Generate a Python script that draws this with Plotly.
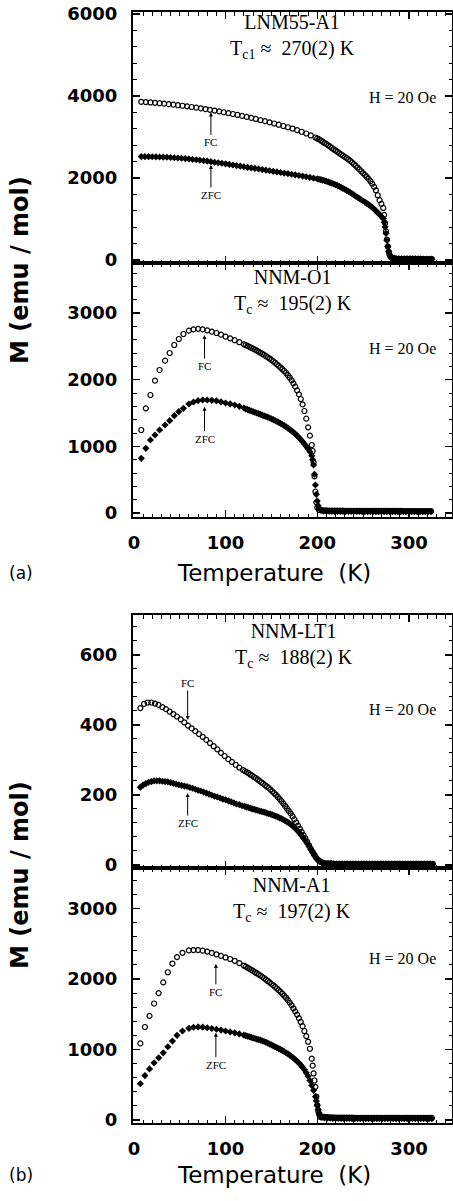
import plotly.graph_objects as go

W, H = 453, 1201

# ---------------- Panel 1 : LNM55-A1 ----------------
T1_fc = [8, 13, 18, 23, 28, 33, 38, 43, 48, 53, 58, 63, 68, 73, 78, 83, 88, 93, 98, 103,
         108, 113, 118, 123, 128, 133, 138, 143, 148, 153, 158, 163, 168, 173, 178, 183, 188, 193, 198,
         200, 202, 204, 206, 208, 210, 212, 214, 216, 218, 220, 222, 224, 226, 228, 230, 232, 234, 236,
         238, 240, 242, 244, 246, 248, 250, 252, 254, 256, 258, 260, 262, 264, 266, 268, 270, 272,
         273, 274, 275, 276, 277, 278, 279, 280, 282, 284]
M1_fc = [3859, 3851, 3843, 3834, 3824, 3813, 3801, 3789, 3776, 3762, 3748, 3732, 3716, 3700, 3682, 3664,
         3645, 3625, 3604, 3583, 3561, 3538, 3515, 3491, 3466, 3440, 3413, 3386, 3358, 3329, 3300, 3269,
         3238, 3206, 3168, 3128, 3085, 3038, 2988,
         2965, 2945, 2915, 2885, 2855, 2825, 2795, 2765, 2733, 2700, 2670, 2640, 2608, 2575, 2545, 2515,
         2485, 2455, 2418, 2380, 2340, 2300, 2255, 2210, 2165, 2120, 2075, 2030, 1978, 1922, 1860, 1785,
         1700, 1580, 1460, 1370, 1270,
         1100, 900, 700, 500, 330, 200, 120, 80, 50, 35]
T1_zfc = [8, 12, 16, 20, 24, 28, 32, 36, 40, 44, 48, 52, 56, 60, 64, 68, 72, 76, 80, 84, 88, 92, 96,
          100, 104, 108, 112, 116, 120, 124, 128, 132, 136, 140, 144, 148, 152, 156, 160, 164, 168, 172,
          176, 180, 184, 188, 192, 196, 200,
          202, 204, 206, 208, 210, 212, 214, 216, 218, 220, 222, 224, 226, 228, 230, 232, 234, 236, 238,
          240, 242, 244, 246, 248, 250, 252, 254, 256, 258, 260, 262, 264, 266, 268, 270, 272,
          273, 274, 275, 276, 277, 278, 279, 280, 282, 284]
M1_zfc = [2522, 2521, 2520, 2518, 2516, 2513, 2510, 2506, 2501, 2495, 2489, 2482, 2474, 2465, 2455, 2445,
          2434, 2422, 2410, 2398, 2385, 2372, 2359, 2345, 2331, 2317, 2303, 2289, 2275, 2261, 2247, 2233,
          2219, 2205, 2191, 2177, 2163, 2149, 2135, 2121, 2107, 2092, 2077, 2062, 2046, 2030, 2014, 1997, 1980,
          1970, 1959, 1947, 1934, 1920, 1905, 1889, 1872, 1854, 1835, 1815, 1794, 1772, 1749, 1725, 1700,
          1674, 1646, 1617, 1587, 1556, 1530, 1500, 1470, 1440, 1412, 1383, 1352, 1318, 1282, 1243, 1200,
          1155, 1108, 1060, 1010,
          920, 810, 650, 480, 330, 210, 130, 90, 55, 38]
T1_tail = [286, 289, 292, 295, 298, 301, 304, 307, 310, 313, 316, 319, 322, 325]
M1_tail_fc = [30, 28, 28, 27, 27, 26, 26, 26, 25, 25, 25, 25, 24, 24]
M1_tail_zfc = [32, 30, 29, 28, 28, 27, 27, 26, 26, 26, 25, 25, 25, 25]

# ---------------- Panel 2 : NNM-O1 ----------------
T2_fc = [8, 13, 18, 23, 28, 34, 39, 44, 49, 54, 60, 65, 70, 75, 80, 85, 90, 95, 100, 105, 110, 115, 120,
         122, 124, 126, 128, 130, 132, 134, 136, 138, 140, 142, 144, 146, 148, 150, 152, 154, 156, 158,
         160, 162, 164, 166, 168, 170, 172, 174, 176, 178, 180, 182, 184, 186, 188, 190, 192, 194, 195,
         196, 197, 198, 199, 200, 202, 205]
M2_fc = [1245, 1570, 1770, 1985, 2145, 2285, 2400, 2520, 2610, 2685, 2735, 2755, 2762, 2755, 2740, 2720,
         2700, 2675, 2645, 2620, 2592, 2562, 2530,
         2518, 2506, 2493, 2479, 2465, 2450, 2435, 2420, 2404, 2388, 2371, 2354, 2336, 2317, 2297, 2276,
         2254, 2231, 2207, 2182, 2157, 2130, 2100, 2067, 2030, 1990, 1945, 1895, 1840, 1780, 1710, 1630,
         1530, 1415, 1285, 1160, 1020, 930, 760, 550, 320, 160, 80, 45, 35]
T2_zfc = [8, 13, 18, 23, 28, 34, 39, 44, 49, 54, 60, 65, 70, 75, 80, 85, 90, 95, 100, 105, 110, 115, 120,
          122, 124, 126, 128, 130, 132, 134, 136, 138, 140, 142, 144, 146, 148, 150, 152, 154, 156, 158,
          160, 162, 164, 166, 168, 170, 172, 174, 176, 178, 180, 182, 184, 186, 188, 190, 192, 194, 195,
          196, 197, 198, 199, 200, 201, 202, 204]
M2_zfc = [820, 970, 1095, 1170, 1245, 1320, 1385, 1460, 1520, 1570, 1635, 1665, 1685, 1695, 1695, 1690,
          1682, 1668, 1650, 1636, 1620, 1600, 1575,
          1560, 1550, 1540, 1530, 1520, 1510, 1500, 1490, 1479, 1468, 1458, 1448, 1437, 1425, 1413, 1400,
          1387, 1373, 1359, 1344, 1328, 1311, 1293, 1274, 1254, 1233, 1210, 1186, 1160, 1132, 1102, 1070,
          1036, 1000, 962, 920, 860, 800, 720, 580, 420, 280, 180, 110, 70, 45]
T2_tail = [207, 210, 213, 216, 219, 222, 225, 228, 231, 234, 237, 240, 243, 246, 249, 252, 255, 258, 261,
           264, 267, 270, 273, 276, 279, 282, 285, 288, 291, 294, 297, 300, 303, 306, 309, 312, 315, 318,
           321, 324]
M2_tail_fc = [40, 38, 37, 36, 36, 35, 35, 35, 34, 34, 34, 34, 33, 33, 33, 33, 33, 32, 32, 32, 32, 32, 32,
              31, 31, 31, 31, 31, 31, 30, 30, 30, 30, 30, 30, 30, 30, 30, 30, 30]
M2_tail_zfc = [30, 28, 26, 25, 24, 24, 23, 23, 23, 22, 22, 22, 22, 22, 21, 21, 21, 21, 21, 21, 21, 20, 20,
               20, 20, 20, 20, 20, 20, 20, 20, 20, 20, 20, 20, 20, 20, 20, 20, 20]

# ---------------- Panel 3 : NNM-LT1 ----------------
T3_fc = [7, 11, 15, 19, 23, 27, 31, 35, 39, 43, 47, 51, 55, 59, 63, 67, 71, 75, 79, 83, 87, 91, 95, 99,
         103, 107, 111, 115, 119,
         121, 123, 125, 127, 129, 131, 133, 135, 137, 139, 141, 143, 145, 147, 149, 151, 153, 155, 157,
         159, 161, 163, 165, 167, 169, 171, 173, 175, 177, 179, 181, 183, 185, 187, 189, 191, 193, 195,
         197, 199, 201, 203, 205, 207, 209]
M3_fc = [448, 460, 464, 464, 461, 457, 451, 445, 438, 431, 424, 416, 407, 398, 390, 382, 374, 366, 357,
         348, 339, 330, 320, 311, 302, 294, 286, 278, 271,
         268, 265, 262, 258, 255, 251, 248, 244, 240, 236, 232, 228, 224, 220, 215, 210, 205, 200, 194,
         188, 182, 175, 168, 161, 154, 147, 139, 130, 121, 112, 103, 94, 85, 76, 66, 56, 46, 37, 28, 20,
         14, 10, 7, 5, 4]
T3_zfc = [7, 10, 13, 16, 19, 22, 25, 28, 31, 34, 37, 40, 43, 46, 49, 52, 55, 58, 61, 64, 67, 70, 73, 76,
          79, 82, 85, 88, 91, 94, 97, 100, 103, 106, 109, 112, 115, 118,
          121, 123, 125, 127, 129, 131, 133, 135, 137, 139, 141, 143, 145, 147, 149, 151, 153, 155, 157,
          159, 161, 163, 165, 167, 169, 171, 173, 175, 177, 179, 181, 183, 185, 187, 189, 191, 193, 195,
          197, 199, 201, 203, 205, 207, 209]
M3_zfc = [222, 228, 232, 236, 238, 240, 240, 240, 239, 238, 237, 235, 233, 231, 229, 227, 225, 224, 221,
          219, 216, 213, 211, 208, 205, 202, 199, 196, 194, 191, 188, 186, 183, 180, 177, 174, 172, 169,
          167, 165, 164, 162, 160, 159, 157, 156, 154, 153, 151, 150, 148, 146, 145, 143, 141, 139, 137,
          134, 132, 129, 126, 123, 120, 116, 112, 107, 102, 96, 90, 83, 76, 69, 61, 53, 44, 35, 27, 19,
          13, 9, 6, 4, 3]
T3_tail = [212, 215, 218, 221, 224, 227, 230, 233, 236, 239, 242, 245, 248, 251, 254, 257, 260, 263, 266,
           269, 272, 275, 278, 281, 284, 287, 290, 293, 296, 299, 302, 305, 308, 311, 314, 317, 320, 323, 326]
M3_tail_fc = [4, 4, 3, 3, 3, 3, 3, 3, 3, 3, 3, 3, 3, 3, 3, 3, 3, 3, 3, 3, 3, 3, 3, 3, 3, 3, 3, 3, 3, 3,
              3, 3, 3, 3, 3, 3, 3, 3, 3]
M3_tail_zfc = [3, 3, 3, 2, 2, 2, 2, 2, 2, 2, 2, 2, 2, 2, 2, 2, 2, 2, 2, 2, 2, 2, 2, 2, 2, 2, 2, 2, 2, 2,
               2, 2, 2, 2, 2, 2, 2, 2, 2]

# ---------------- Panel 4 : NNM-A1 ----------------
T4_fc = [7, 12, 17, 22, 27, 32, 37, 42, 47, 53, 60, 65, 70, 75, 80, 85, 90, 95, 100, 105, 110, 115, 120,
         122, 124, 126, 128, 130, 132, 134, 136, 138, 140, 142, 144, 146, 148, 150, 152, 154, 156, 158,
         160, 162, 164, 166, 168, 170, 172, 174, 176, 178, 180, 182, 184, 186, 188, 190, 192, 194, 195,
         196, 197, 198, 199, 200, 201, 202, 203, 205]
M4_fc = [1086, 1319, 1476, 1652, 1800, 1952, 2095, 2219, 2310, 2371, 2405, 2410, 2410, 2402, 2388, 2370,
         2350, 2328, 2305, 2283, 2258, 2225, 2190,
         2175, 2160, 2145, 2130, 2114, 2098, 2082, 2065, 2048, 2030, 2012, 1992, 1972, 1952, 1931, 1910,
         1888, 1865, 1841, 1816, 1790, 1762, 1733, 1700, 1665, 1626, 1584, 1540, 1495, 1445, 1390, 1330,
         1262, 1190, 1110, 1010, 870, 770, 660, 560, 470, 330, 210, 130, 80, 45, 35]
T4_zfc = [7, 12, 17, 22, 27, 32, 37, 42, 47, 53, 60, 65, 70, 75, 80, 85, 90, 95, 100, 105, 110, 115, 120,
          122, 124, 126, 128, 130, 132, 134, 136, 138, 140, 142, 144, 146, 148, 150, 152, 154, 156, 158,
          160, 162, 164, 166, 168, 170, 172, 174, 176, 178, 180, 182, 184, 186, 188, 190, 192, 194, 196,
          198, 199, 200, 201, 202, 203, 205]
M4_zfc = [514, 629, 724, 810, 881, 952, 1038, 1119, 1200, 1262, 1300, 1315, 1320, 1316, 1308, 1298, 1287,
          1275, 1262, 1249, 1236, 1221, 1203,
          1196, 1188, 1180, 1171, 1163, 1155, 1147, 1140, 1133, 1123, 1113, 1102, 1090, 1078, 1065, 1052,
          1039, 1026, 1012, 998, 984, 969, 954, 937, 919, 900, 879, 857, 833, 808, 780, 748, 712, 670, 620,
          560, 490, 420, 330, 270, 210, 150, 100, 70, 45]
T4_tail = [208, 211, 214, 217, 220, 223, 226, 229, 232, 235, 238, 241, 244, 247, 250, 253, 256, 259, 262,
           265, 268, 271, 274, 277, 280, 283, 286, 289, 292, 295, 298, 301, 304, 307, 310, 313, 316, 319,
           322, 325]
M4_tail_fc = [45, 40, 38, 36, 35, 34, 33, 33, 32, 32, 32, 31, 31, 31, 31, 30, 30, 30, 30, 30, 30, 30, 30,
              30, 30, 30, 30, 30, 30, 30, 30, 30, 30, 30, 30, 30, 30, 30, 30, 30]
M4_tail_zfc = [30, 26, 24, 23, 22, 22, 21, 21, 21, 21, 20, 20, 20, 20, 20, 20, 20, 20, 20, 20, 20, 20, 20,
               20, 20, 20, 20, 20, 20, 20, 20, 20, 20, 20, 20, 20, 20, 20, 20, 20]

samples = ["LNM55-A1", "NNM-O1", "NNM-LT1", "NNM-A1"]
tc_labels = ["T<sub>c1</sub> \u2248  270(2) K", "T<sub>c</sub> \u2248  195(2) K",
             "T<sub>c</sub> \u2248  188(2) K", "T<sub>c</sub> \u2248  197(2) K"]
field_label = "H = 20 Oe"
y_ranges = [[-73, 6049], [-60, 3750], [-9, 714], [-43, 3574]]
y_dticks = [2000, 1000, 200, 1000]
y_minor = [400, 200, 40, 200]
# panel pixel extents (top, bottom)
panel_px = [(12, 263), (263, 517), (615, 868), (868, 1123)]

def px(x):
    return x / W

def py(y):
    return 1 - y / H

fig = go.Figure()

series = [
    (T1_fc, M1_fc, T1_zfc, M1_zfc, T1_tail, M1_tail_fc, M1_tail_zfc),
    (T2_fc, M2_fc, T2_zfc, M2_zfc, T2_tail, M2_tail_fc, M2_tail_zfc),
    (T3_fc, M3_fc, T3_zfc, M3_zfc, T3_tail, M3_tail_fc, M3_tail_zfc),
    (T4_fc, M4_fc, T4_zfc, M4_zfc, T4_tail, M4_tail_fc, M4_tail_zfc),
]

fc_marker = dict(symbol="circle-open", size=5, color="black", line=dict(width=1.2, color="black"))
zfc_marker = dict(symbol="diamond", size=5.5, color="black", line=dict(width=0))

for i, (tf, mf, tz, mz, tt, mtf, mtz) in enumerate(series):
    xa = "x" if i == 0 else f"x{i+1}"
    ya = "y" if i == 0 else f"y{i+1}"
    fig.add_trace(go.Scatter(x=tz + tt, y=mz + mtz, mode="markers", marker=zfc_marker,
                             xaxis=xa, yaxis=ya, showlegend=False, name="ZFC"))
    fig.add_trace(go.Scatter(x=tf + tt, y=mf + mtf, mode="markers", marker=fc_marker,
                             xaxis=xa, yaxis=ya, showlegend=False, name="FC"))

tickfont = dict(family="DejaVu Sans", size=18, color="black", weight="bold")
layout = dict(width=W, height=H, margin=dict(l=0, r=0, t=0, b=0, pad=0, autoexpand=False),
              template="none", paper_bgcolor="white", plot_bgcolor="white", showlegend=False)

for i in range(4):
    sx = "" if i == 0 else str(i + 1)
    top, bot = panel_px[i]
    layout["xaxis" + sx] = dict(
        domain=[px(133), px(452)], anchor="y" + sx, range=[-1, 347], automargin=False,
        tick0=0, dtick=100, showline=True, linecolor="black", linewidth=2,
        mirror="ticks", ticks="inside", ticklen=7, tickwidth=1.5, tickcolor="black",
        minor=dict(ticks="inside", ticklen=3.5, tickwidth=1, tickcolor="black", dtick=10),
        showgrid=False, zeroline=False, showticklabels=(i in (1, 3)),
        tickfont=tickfont, ticklabelstandoff=8, ticklabeloverflow="allow")
    layout["yaxis" + sx] = dict(
        domain=[py(bot), py(top)], anchor="x" + sx, range=y_ranges[i], automargin=False,
        tick0=0, dtick=y_dticks[i], showline=True, linecolor="black", linewidth=2,
        mirror="ticks", ticks="inside", ticklen=7, tickwidth=1.5, tickcolor="black",
        minor=dict(ticks="inside", ticklen=3.5, tickwidth=1, tickcolor="black", dtick=y_minor[i]),
        showgrid=False, zeroline=False, tickfont=tickfont, ticklabelstandoff=10,
        ticklabeloverflow="allow")

fig.update_layout(**layout)

serif = "Liberation Serif"
annots = []
# centre of the two-line sample label block (x, y)
title_pos = [(292, 36), (293, 292), (294, 645), (292, 899)]
h_pos = [97, 348, 710, 958]
for i in range(4):
    cx, cy = title_pos[i]
    annots.append(dict(text=samples[i] + "<br>" + tc_labels[i], x=px(cx), y=py(cy),
                       xref="paper", yref="paper", showarrow=False, align="center",
                       xanchor="center", yanchor="middle",
                       font=dict(family=serif, size=20, color="black")))
    annots.append(dict(text=field_label, x=px(438), y=py(h_pos[i]), xref="paper", yref="paper",
                       showarrow=False, xanchor="right", yanchor="middle",
                       font=dict(family=serif, size=16, color="black")))

# arrows: (panel, label, T, M tip, ay pixels)
arrows = [(0, "FC", 84, 3600, 30), (0, "ZFC", 84, 2317, 30),
          (1, "FC", 77, 2669, 31), (1, "ZFC", 77, 1594, 32),
          (2, "FC", 58.6, 414, -37), (2, "ZFC", 58.6, 205, 30),
          (3, "FC", 89.4, 2214, 28), (3, "ZFC", 89.4, 1238, 32)]
for p, lab, t, m, ay in arrows:
    sx = "" if p == 0 else str(p + 1)
    annots.append(dict(text=lab, x=t, y=m, xref="x" + sx, yref="y" + sx,
                       showarrow=True, ax=0, ay=ay, arrowhead=2, arrowsize=0.8, arrowwidth=1,
                       arrowcolor="black", standoff=0, startstandoff=0,
                       font=dict(family=serif, size=11, color="black")))

# axis titles and panel letters
for yc in (270, 875):
    annots.append(dict(text="M (emu / mol)", x=px(20), y=py(yc), xref="paper", yref="paper",
                       showarrow=False, textangle=-90, xanchor="center", yanchor="middle",
                       font=dict(family="DejaVu Sans", size=24, color="black", weight="bold")))
for yc, letter in ((573, "(a)"), (1175, "(b)")):
    annots.append(dict(text="Temperature  (K)", x=px(274), y=py(yc), xref="paper", yref="paper",
                       showarrow=False, xanchor="center", yanchor="middle",
                       font=dict(family="DejaVu Sans", size=23, color="black")))
    annots.append(dict(text=letter, x=px(21), y=py(yc), xref="paper", yref="paper",
                       showarrow=False, xanchor="center", yanchor="middle",
                       font=dict(family="DejaVu Sans", size=17, color="black")))

fig.update_layout(annotations=annots)
fig.write_html("out.html",
               config={"displayModeBar": False, "staticPlot": True},
               post_script="document.body.style.margin='0px';"
                           "document.body.style.overflow='hidden';")
